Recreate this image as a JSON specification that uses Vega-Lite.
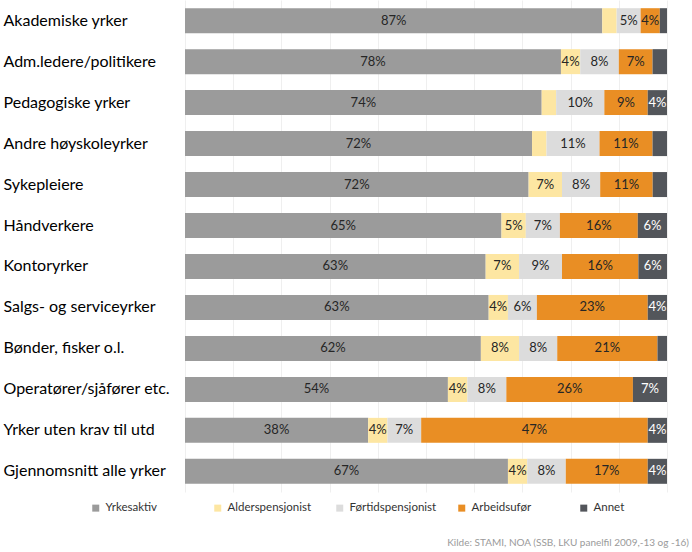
{
  "$schema": "https://vega.github.io/schema/vega-lite/v6.json",
  "width": 482,
  "height": 492,
  "padding": {"left": 3, "top": 0, "right": 4, "bottom": 5},
  "autosize": {"type": "pad"},
  "background": "white",
  "config": {"font": "Lato", "view": {"stroke": null}},
  "title": {"text": "Kilde: STAMI, NOA (SSB, LKU panelfil 2009,-13 og -16)", "orient": "bottom", "anchor": "end", "fontSize": 10, "fontWeight": "normal", "color": "#9a9a9a", "offset": 24, "dx": 22},
  "data": {"values": [
    {"yrke": "Akademiske yrker", "status": "Yrkesaktiv", "v": 87},
    {"yrke": "Akademiske yrker", "status": "Alderspensjonist", "v": 3},
    {"yrke": "Akademiske yrker", "status": "Førtidspensjonist", "v": 5},
    {"yrke": "Akademiske yrker", "status": "Arbeidsufør", "v": 4},
    {"yrke": "Akademiske yrker", "status": "Annet", "v": 1.5},
    {"yrke": "Adm.ledere/politikere", "status": "Yrkesaktiv", "v": 78},
    {"yrke": "Adm.ledere/politikere", "status": "Alderspensjonist", "v": 4},
    {"yrke": "Adm.ledere/politikere", "status": "Førtidspensjonist", "v": 8},
    {"yrke": "Adm.ledere/politikere", "status": "Arbeidsufør", "v": 7},
    {"yrke": "Adm.ledere/politikere", "status": "Annet", "v": 3},
    {"yrke": "Pedagogiske yrker", "status": "Yrkesaktiv", "v": 74},
    {"yrke": "Pedagogiske yrker", "status": "Alderspensjonist", "v": 3},
    {"yrke": "Pedagogiske yrker", "status": "Førtidspensjonist", "v": 10},
    {"yrke": "Pedagogiske yrker", "status": "Arbeidsufør", "v": 9},
    {"yrke": "Pedagogiske yrker", "status": "Annet", "v": 4},
    {"yrke": "Andre høyskoleyrker", "status": "Yrkesaktiv", "v": 72},
    {"yrke": "Andre høyskoleyrker", "status": "Alderspensjonist", "v": 3},
    {"yrke": "Andre høyskoleyrker", "status": "Førtidspensjonist", "v": 11},
    {"yrke": "Andre høyskoleyrker", "status": "Arbeidsufør", "v": 11},
    {"yrke": "Andre høyskoleyrker", "status": "Annet", "v": 3},
    {"yrke": "Sykepleiere", "status": "Yrkesaktiv", "v": 72},
    {"yrke": "Sykepleiere", "status": "Alderspensjonist", "v": 7},
    {"yrke": "Sykepleiere", "status": "Førtidspensjonist", "v": 8},
    {"yrke": "Sykepleiere", "status": "Arbeidsufør", "v": 11},
    {"yrke": "Sykepleiere", "status": "Annet", "v": 3},
    {"yrke": "Håndverkere", "status": "Yrkesaktiv", "v": 65},
    {"yrke": "Håndverkere", "status": "Alderspensjonist", "v": 5},
    {"yrke": "Håndverkere", "status": "Førtidspensjonist", "v": 7},
    {"yrke": "Håndverkere", "status": "Arbeidsufør", "v": 16},
    {"yrke": "Håndverkere", "status": "Annet", "v": 6},
    {"yrke": "Kontoryrker", "status": "Yrkesaktiv", "v": 63},
    {"yrke": "Kontoryrker", "status": "Alderspensjonist", "v": 7},
    {"yrke": "Kontoryrker", "status": "Førtidspensjonist", "v": 9},
    {"yrke": "Kontoryrker", "status": "Arbeidsufør", "v": 16},
    {"yrke": "Kontoryrker", "status": "Annet", "v": 6},
    {"yrke": "Salgs- og serviceyrker", "status": "Yrkesaktiv", "v": 63},
    {"yrke": "Salgs- og serviceyrker", "status": "Alderspensjonist", "v": 4},
    {"yrke": "Salgs- og serviceyrker", "status": "Førtidspensjonist", "v": 6},
    {"yrke": "Salgs- og serviceyrker", "status": "Arbeidsufør", "v": 23},
    {"yrke": "Salgs- og serviceyrker", "status": "Annet", "v": 4},
    {"yrke": "Bønder, fisker o.l.", "status": "Yrkesaktiv", "v": 62},
    {"yrke": "Bønder, fisker o.l.", "status": "Alderspensjonist", "v": 8},
    {"yrke": "Bønder, fisker o.l.", "status": "Førtidspensjonist", "v": 8},
    {"yrke": "Bønder, fisker o.l.", "status": "Arbeidsufør", "v": 21},
    {"yrke": "Bønder, fisker o.l.", "status": "Annet", "v": 2},
    {"yrke": "Operatører/sjåfører etc.", "status": "Yrkesaktiv", "v": 54},
    {"yrke": "Operatører/sjåfører etc.", "status": "Alderspensjonist", "v": 4},
    {"yrke": "Operatører/sjåfører etc.", "status": "Førtidspensjonist", "v": 8},
    {"yrke": "Operatører/sjåfører etc.", "status": "Arbeidsufør", "v": 26},
    {"yrke": "Operatører/sjåfører etc.", "status": "Annet", "v": 7},
    {"yrke": "Yrker uten krav til utd", "status": "Yrkesaktiv", "v": 38},
    {"yrke": "Yrker uten krav til utd", "status": "Alderspensjonist", "v": 4},
    {"yrke": "Yrker uten krav til utd", "status": "Førtidspensjonist", "v": 7},
    {"yrke": "Yrker uten krav til utd", "status": "Arbeidsufør", "v": 47},
    {"yrke": "Yrker uten krav til utd", "status": "Annet", "v": 4},
    {"yrke": "Gjennomsnitt alle yrker", "status": "Yrkesaktiv", "v": 67},
    {"yrke": "Gjennomsnitt alle yrker", "status": "Alderspensjonist", "v": 4},
    {"yrke": "Gjennomsnitt alle yrker", "status": "Førtidspensjonist", "v": 8},
    {"yrke": "Gjennomsnitt alle yrker", "status": "Arbeidsufør", "v": 17},
    {"yrke": "Gjennomsnitt alle yrker", "status": "Annet", "v": 4}
  ]},
  "transform": [
    {"calculate": "indexof(['Yrkesaktiv','Alderspensjonist','Førtidspensjonist','Arbeidsufør','Annet'], datum.status)", "as": "ord"},
    {"stack": "v", "groupby": ["yrke"], "sort": [{"field": "ord", "order": "ascending"}], "offset": "normalize", "as": ["x0", "x1"]},
    {"calculate": "(datum.x0 + datum.x1) / 2", "as": "xm"},
    {"calculate": "datum.v + '%'", "as": "lab"}
  ],
  "encoding": {
    "y": {
      "field": "yrke", "type": "nominal",
      "sort": ["Akademiske yrker", "Adm.ledere/politikere", "Pedagogiske yrker", "Andre høyskoleyrker", "Sykepleiere", "Håndverkere", "Kontoryrker", "Salgs- og serviceyrker", "Bønder, fisker o.l.", "Operatører/sjåfører etc.", "Yrker uten krav til utd", "Gjennomsnitt alle yrker"],
      "scale": {"paddingInner": 0.39, "paddingOuter": 0.2},
      "axis": {"title": null, "ticks": false, "domain": false, "labelAlign": "left", "labelPadding": 182, "labelFontSize": 16, "labelColor": "#000000", "labelLimit": 250}
    }
  },
  "layer": [
    {
      "mark": {"type": "bar"},
      "encoding": {
        "x": {"field": "x0", "type": "quantitative", "scale": {"domain": [0, 1], "nice": false, "zero": true},
              "axis": {"title": null, "labels": false, "ticks": false, "domain": false, "grid": true, "gridColor": "#efefef", "values": [0, 0.1, 0.2, 0.3, 0.4, 0.5, 0.6, 0.7, 0.8, 0.9, 1]}},
        "x2": {"field": "x1"},
        "color": {
          "field": "status", "type": "nominal",
          "scale": {"domain": ["Yrkesaktiv", "Alderspensjonist", "Førtidspensjonist", "Arbeidsufør", "Annet"], "range": ["#9b9b9b", "#fde6a2", "#dcdcdc", "#e98e24", "#53565b"]},
          "legend": {"title": null, "orient": "none", "legendX": -95, "legendY": 502, "direction": "horizontal", "gridAlign": "all", "symbolType": "square", "symbolSize": 49, "symbolStrokeWidth": 0, "labelFontSize": 11.5, "labelColor": "#333333", "columnPadding": 19, "labelOffset": 4}
        }
      }
    },
    {
      "transform": [{"filter": "datum.v >= 4"}],
      "mark": {"type": "text", "fontSize": 13, "baseline": "middle", "align": "center"},
      "encoding": {
        "x": {"field": "xm", "type": "quantitative"},
        "text": {"field": "lab"},
        "color": {"condition": {"test": "datum.status === 'Annet'", "value": "#ffffff"}, "value": "#262626"}
      }
    }
  ]
}
